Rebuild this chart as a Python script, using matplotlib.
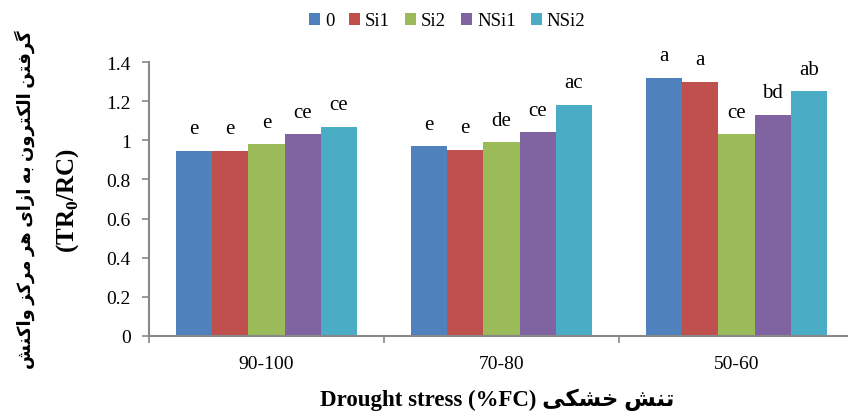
"""Grouped bars: TR0/RC per reaction centre under drought stress, with Si / nano-Si treatments."""

import matplotlib

matplotlib.use("Agg")
import matplotlib.pyplot as plt
import numpy as np
from matplotlib.ticker import FixedLocator, FuncFormatter

plt.rcParams["font.family"] = ["Liberation Serif", "DejaVu Sans"]
plt.rcParams["mathtext.fontset"] = "custom"
plt.rcParams["mathtext.rm"] = "Liberation Serif"
plt.rcParams["mathtext.bf"] = "Liberation Serif:bold"

CATEGORIES = ["90-100", "70-80", "50-60"]
TREATMENTS = ["0", "Si1", "Si2", "NSi1", "NSi2"]
VALUES = {
    "0": [0.945, 0.97, 1.32],
    "Si1": [0.945, 0.95, 1.30],
    "Si2": [0.98, 0.99, 1.03],
    "NSi1": [1.03, 1.04, 1.13],
    "NSi2": [1.07, 1.18, 1.25],
}
LETTERS = {
    "0": ["e", "e", "a"],
    "Si1": ["e", "e", "a"],
    "Si2": ["e", "de", "ce"],
    "NSi1": ["ce", "ce", "bd"],
    "NSi2": ["ce", "ac", "ab"],
}
COLORS = {
    "0": "#4F81BD",
    "Si1": "#C0504D",
    "Si2": "#9BBB59",
    "NSi1": "#8064A2",
    "NSi2": "#4BACC6",
}

YLABEL_FA = "گرفتن الکترون به ازای هر مرکز واکنش"
XLABEL_FA = "تنش خشکی"

# presentation forms: isolated, final, initial, medial (None = does not join forward)
FORMS = {
    "ا": ("\uFE8D", "\uFE8E", None, None),
    "ب": ("\uFE8F", "\uFE90", "\uFE91", "\uFE92"),
    "ت": ("\uFE95", "\uFE96", "\uFE97", "\uFE98"),
    "خ": ("\uFEA5", "\uFEA6", "\uFEA7", "\uFEA8"),
    "ر": ("\uFEAD", "\uFEAE", None, None),
    "ز": ("\uFEAF", "\uFEB0", None, None),
    "ش": ("\uFEB5", "\uFEB6", "\uFEB7", "\uFEB8"),
    "ف": ("\uFED1", "\uFED2", "\uFED3", "\uFED4"),
    "ل": ("\uFEDD", "\uFEDE", "\uFEDF", "\uFEE0"),
    "م": ("\uFEE1", "\uFEE2", "\uFEE3", "\uFEE4"),
    "ن": ("\uFEE5", "\uFEE6", "\uFEE7", "\uFEE8"),
    "ه": ("\uFEE9", "\uFEEA", "\uFEEB", "\uFEEC"),
    "و": ("\uFEED", "\uFEEE", None, None),
    "ک": ("\uFB8E", "\uFB8F", "\uFB90", "\uFB91"),
    "گ": ("\uFB92", "\uFB93", "\uFB94", "\uFB95"),
    "ی": ("\uFBFC", "\uFBFD", "\uFBFE", "\uFBFF"),
}


def shape_fa(text: str) -> str:
    """Join Persian letters and return them in visual (left-to-right) order."""
    out = []
    for i, ch in enumerate(text):
        if ch not in FORMS:
            out.append(ch)
            continue
        prev = text[i - 1] if i > 0 else ""
        nxt = text[i + 1] if i + 1 < len(text) else ""
        iso, fin, ini, med = FORMS[ch]
        joins_prev = prev in FORMS and FORMS[prev][2] is not None
        joins_next = ini is not None and nxt in FORMS
        if joins_prev and joins_next:
            out.append(med)
        elif joins_prev:
            out.append(fin)
        elif joins_next:
            out.append(ini)
        else:
            out.append(iso)
    return "".join(reversed(out))


W, H = 848, 414
fig = plt.figure(figsize=(W / 100, H / 100), dpi=100)
ax = fig.add_axes([149 / W, (H - 337) / H, 705 / W, 274 / H])

x = np.arange(len(CATEGORIES))
width = 0.154
for i, t in enumerate(TREATMENTS):
    pos = x + (i - 2) * width
    ax.bar(pos, VALUES[t], width, color=COLORS[t], label=t, edgecolor="none")
    for px, v, lab in zip(pos, VALUES[t], LETTERS[t]):
        ax.text(px, v + 0.09, lab, ha="center", va="baseline", fontsize=15, clip_on=False)

ax.set_xlim(-0.5, 2.5)
ax.set_ylim(0, 1.4)
ax.set_yticks(np.arange(0, 1.41, 0.2))
ax.yaxis.set_major_formatter(FuncFormatter(lambda v, _: f"{v:g}"))
ax.set_xticks(x)
ax.set_xticklabels(CATEGORIES)
ax.xaxis.set_minor_locator(FixedLocator([-0.5, 0.5, 1.5]))

for side in ("top", "right"):
    ax.spines[side].set_visible(False)
for side in ("left", "bottom"):
    ax.spines[side].set_color("#898989")
    ax.spines[side].set_linewidth(1.5)

ax.tick_params(axis="y", length=5, width=1.2, color="#898989", pad=8, labelsize=14)
ax.tick_params(axis="x", which="major", length=0, pad=14, labelsize=14)
ax.tick_params(axis="x", which="minor", length=5, width=1.2, color="#898989", direction="out")

ax.legend(
    loc="center",
    bbox_to_anchor=(447 / W, 1 - 22 / H),
    bbox_transform=fig.transFigure,
    ncol=5,
    frameon=False,
    fontsize=13.5,
    handlelength=0.6,
    handleheight=0.6,
    handletextpad=0.25,
    columnspacing=0.8,
)

fig.text(25 / W, 1 - 200 / H, shape_fa(YLABEL_FA), rotation=90, ha="center", va="center",
         fontsize=13, fontweight="bold")
fig.text(68 / W, 1 - 200 / H, r"(TR$_{\mathbf{0}}$/RC)", rotation=90, ha="center", va="center",
         fontsize=18, fontweight="bold")
fig.text(497 / W, 1 - 400 / H, "Drought stress (%FC) " + shape_fa(XLABEL_FA), ha="center",
         va="center", fontsize=16.5, fontweight="bold")

fig.savefig("out.png", dpi=100)
